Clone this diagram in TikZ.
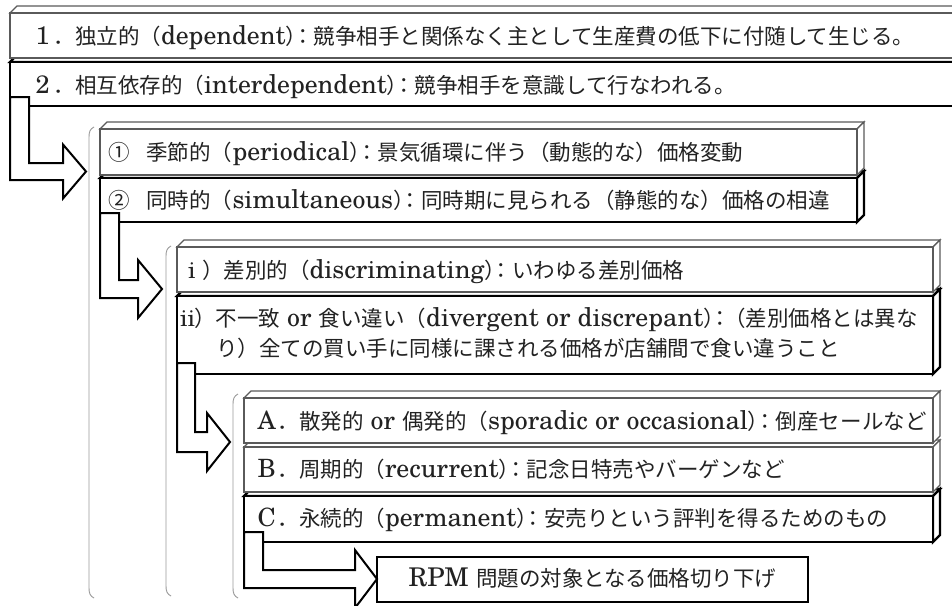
\documentclass[tikz,border=0pt]{standalone}
\usepackage{fontspec}
\usetikzlibrary{calc}
\setmainfont[Extension=.otf,Scale=1.2,UprightFont=texgyreschola-regular]{texgyreschola-regular}
\newfontfamily\jp{Noto Sans CJK JP}
\newcommand\J[1]{{\jp #1}}
\newcommand\PC{\J{）}\kern-15pt\J{：}}
\newcommand\FW[1]{\makebox[21.5pt]{\fontsize{21}{21}\selectfont #1}}
\definecolor{boxgray}{HTML}{5A5A5A}
\definecolor{bracketgray}{HTML}{9A9A9A}
\definecolor{textgray}{HTML}{222222}
\newcommand\cubebox[6]{%
  \draw[#6] (#2,#3) -- (#2+7,#3-7) -- (#4+7,#3-7) -- (#4,#3) -- cycle;
  \draw[#6] (#4,#3) -- (#4+7,#3-7) -- (#4+7,#5-7) -- (#4,#5) -- cycle;
  \node[#6, anchor=north west, minimum width={(#4-#2)*1pt}, minimum height={(#5-#3)*1pt}, inner sep=0pt, outer sep=0pt] (#1) at (#2,#3) {};
}
% name, x0, ytop, xinner, yinner, youter, xbase, xtip, halfhead
\newcommand\blockarrow[9]{%
  \coordinate (#1) at (#8,{(#5+#6)/2});
  \draw[blockarr] (#2,#3) -- (#4,#3) -- (#4,#5) -- (#7,#5) -- (#7,{(#5+#6)/2-#9}) -- (#1) -- (#7,{(#5+#6)/2+#9}) -- (#7,#6) -- (#2,#6) -- cycle;
}
\newcommand\bracketline[4]{% x, ytop, ybot, name
  \draw[bracket] (#1+5,#2) .. controls (#1+1,#2+2) and (#1,#2+5) .. (#1,#2+10) -- (#1,#3-10) .. controls (#1,#3-5) and (#1+1,#3-2) .. (#1+5,#3);
}
\begin{document}
\begin{tikzpicture}[x=1pt,y=-1pt,
  thinbox/.style={draw=boxgray, line width=1.3pt, fill=white, line join=miter},
  thickbox/.style={draw=black, line width=2.2pt, fill=white, line join=miter},
  blockarr/.style={draw=black, line width=2pt, fill=white, line join=miter},
  bracket/.style={draw=bracketgray, line width=0.9pt},
  txt/.style={anchor=base west, inner sep=0pt, outer sep=0pt, text=textgray, font=\fontsize{21.5}{30}\selectfont},
]
\useasboundingbox (0,0) rectangle (952,605);
\clip (0,0) rectangle (952,605);
\fill[white] (0,0) rectangle (952,605);

% level 0
\cubebox{b2}{10}{62}{975}{106}{thickbox}
\cubebox{b1}{10}{13}{975}{58}{thinbox}
\node[txt] (t1) at (32,44) {\FW{1}\J{．独立的（}dependent\PC\J{競争相手と関係なく主として生産費の低下に付随して生じる。}};
\node[txt] (t2) at (32,93) {\FW{2}\J{．相互依存的（}interdependent\PC\J{競争相手を意識して行なわれる。}};
\blockarrow{a0}{10}{97}{29}{163}{180}{63}{86}{27}

% level 1
\bracketline{89}{127}{598}{}
\cubebox{c2}{100}{178}{857}{222}{thickbox}
\cubebox{c1}{100}{129}{857}{175}{thinbox}
\node[txt] (t3) at (108,160) {\J{①}\hspace{17pt}\J{季節的（}periodical\PC\J{景気循環に伴う（動態的な）価格変動}};
\node[txt] (t4) at (108,208) {\J{②}\hspace{17pt}\J{同時的（}simultaneous\PC\J{同時期に見られる（静態的な）価格の相違}};
\blockarrow{a1}{100}{213}{119}{280}{298}{138}{162}{29}

% level 2
\bracketline{166}{246}{596}{}
\cubebox{d2}{177}{296}{933}{374}{thickbox}
\cubebox{d1}{177}{247}{933}{292}{thinbox}
\node[txt] (t5) at (188,278) {\makebox[14pt][l]{\fontsize{20}{20}\selectfont i}\J{）差別的（}discriminating\PC\J{いわゆる差別価格}};
\node[txt] (t6) at (180,326) {\makebox[14pt][l]{\fontsize{20}{20}\selectfont ii}\J{）不一致} or \J{食い違い（}divergent or discrepant\PC\kern-7pt\J{（差別価格とは異な}};
\node[txt] (t7) at (216,356) {\J{り）全ての買い手に同様に課される価格が店舗間で食い違うこと}};
\blockarrow{a2}{177}{363}{195}{432}{452}{207}{230}{29}

% level 3
\bracketline{233}{394}{598}{}
\cubebox{e3}{244}{496}{933}{542}{thickbox}
\cubebox{e2}{244}{447}{933}{492}{thinbox}
\cubebox{e1}{244}{398}{933}{443}{thinbox}
\node[txt] (t8) at (256,429) {\FW{A}\J{．散発的} or \J{偶発的（}sporadic or occasional\PC\J{倒産セールなど}};
\node[txt] (t9) at (256,477) {\FW{B}\J{．周期的（}recurrent\PC\J{記念日特売やバーゲンなど}};
\node[txt] (t10) at (256,526) {\FW{C}\J{．永続的（}permanent\PC\J{安売りという評判を得るためのもの}};

% final
\node[draw=black, line width=2pt, fill=white, anchor=north west, minimum width=431pt, minimum height=45pt, inner sep=0pt, outer sep=0pt] (rpm) at (377,557) {};
\blockarrow{a3}{244}{532}{263}{570}{588}{355}{377}{29}
\node[txt, anchor=center] (t11) at ($(rpm.center)+(0,-1)$) {RPM \J{問題の対象となる価格切り下げ}};
\end{tikzpicture}
\end{document}
